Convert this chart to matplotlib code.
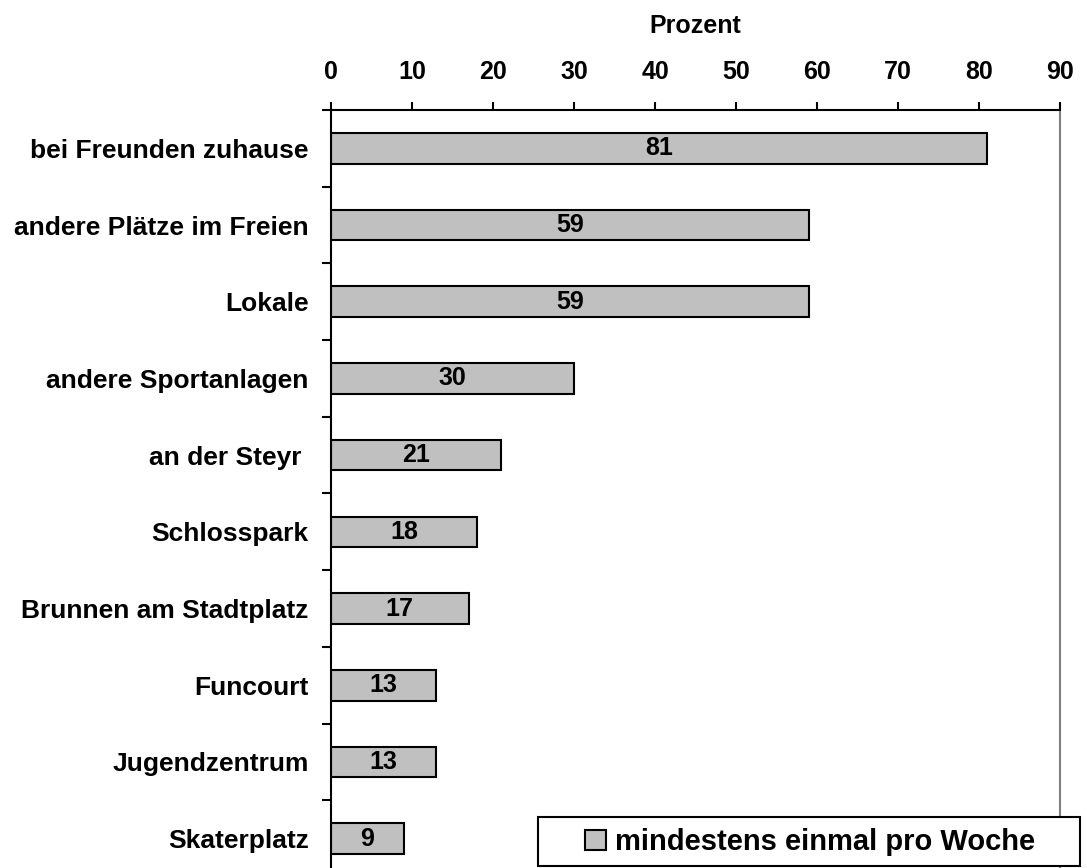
import matplotlib.pyplot as plt
from matplotlib.ticker import FixedLocator
from matplotlib.patches import Rectangle

plt.rcParams['font.family'] = ['Liberation Sans', 'DejaVu Sans']
plt.rcParams['font.weight'] = 'bold'

orte = ["bei Freunden zuhause", "andere Plätze im Freien", "Lokale",
        "andere Sportanlagen", "an der Steyr ", "Schlosspark",
        "Brunnen am Stadtplatz", "Funcourt", "Jugendzentrum", "Skaterplatz"]
prozent = [81, 59, 59, 30, 21, 18, 17, 13, 13, 9]
serie = "mindestens einmal pro Woche"

fig = plt.figure(figsize=(10.87, 8.68), dpi=100)
ax = fig.add_axes([331 / 1087, -9 / 868, 729 / 1087, 767 / 868])

pos = list(range(len(orte)))
bars = ax.barh(pos, prozent, height=0.4, color="#C0C0C0", edgecolor="black",
               linewidth=1.5, label=serie)
for b, v in zip(bars, prozent):
    ax.text(b.get_width() / 2, b.get_y() + b.get_height() / 2, str(v),
            ha="center", va="center", fontsize=18, fontweight="bold")

ax.set_xlim(0, 90)
ax.set_ylim(len(orte) - 0.5, -0.5)
ax.xaxis.tick_top()
ax.xaxis.set_label_position("top")
ax.set_xticks(range(0, 91, 10))
ax.tick_params(axis="x", direction="out", length=6, width=1.5, labelsize=18, pad=12.5)
ax.set_xlabel("Prozent", fontsize=18, fontweight="bold", labelpad=20)

ax.set_yticks(pos)
ax.set_yticklabels(orte, fontsize=19, fontweight="bold")
ax.tick_params(axis="y", which="major", length=0, pad=16)
ax.yaxis.set_minor_locator(FixedLocator([p - 0.5 for p in pos] + [len(orte) - 0.5]))
ax.tick_params(axis="y", which="minor", direction="out", length=6.5, width=1.5)

ax.spines["bottom"].set_visible(False)
ax.spines["left"].set_linewidth(1.5)
ax.spines["top"].set_linewidth(1.5)
ax.spines["right"].set_color("#808080")
ax.spines["right"].set_linewidth(1.5)

# Legendenrahmen unten rechts
fig.patches.append(Rectangle((538 / 1087, 2 / 868), 542 / 1087, 49 / 868,
                             transform=fig.transFigure, facecolor="white",
                             edgecolor="black", linewidth=1.5, zorder=5))
leg = fig.legend(loc="center", bbox_to_anchor=(810 / 1087, 26 / 868),
                 fontsize=21, frameon=False,
                 handlelength=0.7, handleheight=0.7, handletextpad=0.3,
                 borderpad=0, borderaxespad=0)
leg.set_zorder(6)
for t in leg.get_texts():
    t.set_fontweight("bold")

fig.savefig("out.png", dpi=100)
